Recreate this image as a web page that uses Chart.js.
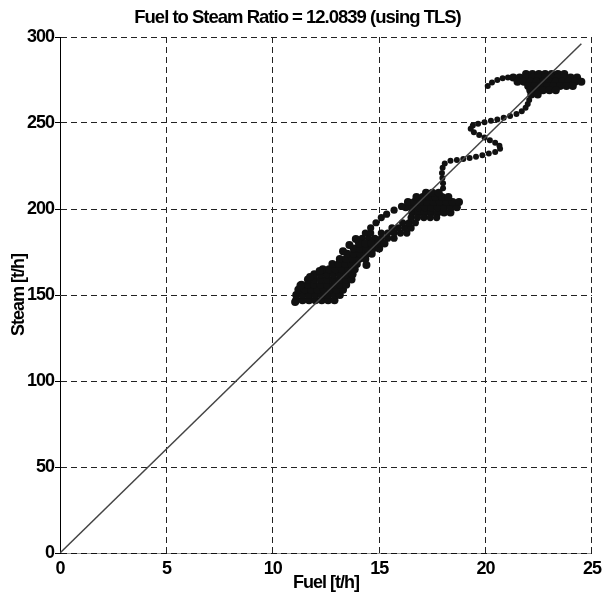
<!DOCTYPE html>
<html>
<head>
<meta charset="utf-8">
<script src="https://cdn.jsdelivr.net/npm/chart.js@4"></script>
<style>
  html, body { margin: 0; padding: 0; background: #fff; }
  #wrap { width: 606px; height: 604px; }
</style>
</head>
<body>
<div id="wrap"><canvas id="chart"></canvas></div>
<script>
// Fuel vs steam scatter with TLS fit line

const ratio = 12.0839;
const xTicks = [0, 5, 10, 15, 20, 25];
const yTicks = [0, 50, 100, 150, 200, 250, 300];

// [fuel, steam] samples
const lowCluster = [
    [11.05, 146], [11.1, 147], [11.4, 147], [11.7, 147], [12.0, 147], [12.3, 147], [12.6, 147], [12.9, 147],
    [11.1, 150], [11.4, 150], [11.7, 150], [12.0, 150], [12.3, 150], [12.6, 150], [12.9, 150], [13.15, 150],
    [11.2, 153], [11.5, 153], [11.8, 153], [12.1, 153], [12.4, 153], [12.7, 153], [13.0, 153], [13.3, 153],
    [11.35, 156], [11.65, 156], [11.95, 156], [12.25, 156], [12.55, 156], [12.85, 156], [13.15, 156], [13.45, 156],
    [11.65, 159], [11.95, 159], [12.25, 159], [12.55, 159], [12.85, 159], [13.15, 159], [13.45, 159], [13.7, 159],
    [11.95, 162], [12.25, 162], [12.55, 162], [12.85, 162], [13.15, 162], [13.45, 162], [13.75, 162],
    [12.35, 165], [12.65, 165], [12.95, 165], [13.25, 165], [13.55, 165], [13.85, 165],
    [12.8, 168], [13.1, 168], [13.4, 168], [13.7, 168], [13.95, 168],
    [13.15, 171], [13.45, 171], [13.75, 171], [14.05, 171], [14.35, 171],
    [13.5, 174], [13.8, 174], [14.1, 174], [14.4, 174], [14.65, 174],
    [13.8, 177], [14.1, 177], [14.4, 177], [14.7, 177], [15.0, 177],
    [14.05, 180], [14.35, 180], [14.65, 180], [14.95, 180], [15.25, 180],
    [11.3, 155.5], [11.75, 160.5], [12.2, 164], [14.4, 167.4],
    [13.3, 175.5], [13.6, 179], [13.9, 182.5]
];

const midBand = [
    [14.2, 183], [14.5, 183], [14.8, 183], [15.1, 183], [15.4, 183], [15.7, 183],
    [14.35, 186], [14.6, 186], [15.1, 186], [15.4, 186], [15.7, 186], [16.0, 186], [16.3, 186],
    [14.6, 189], [15.6, 189], [15.9, 189], [16.2, 189], [16.5, 189],
    [14.85, 192], [16.1, 192], [16.4, 192], [16.7, 192],
    [15.1, 195], [16.5, 195], [16.8, 195], [17.1, 195], [17.4, 195], [17.7, 195],
    [15.35, 197], [15.7, 199.3], [16.05, 201.5]
];

const midBlob = [
    [16.55, 198], [16.85, 198], [17.15, 198], [17.45, 198], [17.75, 198], [18.05, 198], [18.35, 198],
    [16.25, 201], [16.55, 201], [16.85, 201], [17.15, 201], [17.45, 201], [17.75, 201], [18.05, 201], [18.35, 201], [18.65, 201],
    [16.35, 204], [16.65, 204], [16.95, 204], [17.25, 204], [17.55, 204], [17.85, 204], [18.15, 204], [18.45, 204], [18.75, 204],
    [16.75, 207], [17.05, 207], [17.35, 207], [17.65, 207], [17.95, 207], [18.25, 207],
    [17.2, 209.5], [17.5, 209.5], [17.8, 209.5]
];

const riseLoop = [
    [18.0, 212], [18.0, 215], [17.97, 218], [17.95, 221], [17.98, 224], [18.08, 226.5], [18.35, 228],
    [18.65, 228.5], [18.95, 229], [19.25, 229.6], [19.55, 230.4], [19.85, 231.3], [20.15, 232.2],
    [20.45, 233.2], [20.68, 235], [20.65, 236.8], [20.45, 238.5], [20.2, 240], [19.95, 241.6],
    [19.7, 243], [19.45, 244.6], [19.3, 246.6], [19.4, 248.6], [19.65, 249.6], [19.95, 250.5],
    [20.25, 251.3], [20.55, 252.1], [20.85, 253], [21.15, 254], [21.45, 255.2], [21.7, 256.8],
    [21.88, 258.8], [21.98, 261], [22.05, 263.3],
    [20.1, 271.5], [20.3, 273.5], [20.55, 275], [20.8, 276], [21.05, 276.5]
];

const topCluster = [
    [21.9, 278.5], [22.2, 278.5], [22.5, 278.5], [22.8, 278.5], [23.1, 278.5], [23.4, 278.5], [23.7, 278.5],
    [21.3, 276.5], [21.6, 276.5], [21.9, 276.5], [22.2, 276.5], [22.5, 276.5], [22.8, 276.5], [23.1, 276.5],
    [23.4, 276.5], [23.7, 276.5], [24.0, 276.5], [24.3, 276.5],
    [21.5, 274], [21.8, 274], [22.1, 274], [22.4, 274], [22.7, 274], [23.0, 274], [23.3, 274], [23.6, 274],
    [23.9, 274], [24.2, 274], [24.5, 274],
    [22.0, 271.5], [22.3, 271.5], [22.6, 271.5], [22.9, 271.5], [23.2, 271.5], [23.5, 271.5], [23.8, 271.5], [24.1, 271.5],
    [22.1, 269], [22.4, 269], [22.7, 269], [23.0, 269], [23.3, 269],
    [22.15, 266.5], [22.45, 266.5]
];

const fitFuel = [0, 24.5];

const fontFamily = "'Liberation Sans', Arial, sans-serif";

// tight text like the original figure
const tightText = {
    id: 'tightText',
    beforeLayout: chart => { chart.ctx.letterSpacing = '-1px'; },
    beforeDraw: chart => { chart.ctx.letterSpacing = '-1px'; }
};

const toPoints = arr => arr.map(p => ({ x: p[0], y: p[1] }));
const dots = (arr, r) => ({
    type: 'scatter',
    data: toPoints(arr),
    backgroundColor: '#111',
    borderWidth: 0,
    pointRadius: r,
    order: 1
});

new Chart(document.getElementById('chart'), {
    data: {
        datasets: [{
            type: 'line',
            data: fitFuel.map(f => ({ x: f, y: f * ratio })),
            borderColor: '#444',
            borderWidth: 1.5,
            pointRadius: 0,
            order: 0
        },
        dots(lowCluster, 4),
        dots(midBand, 3.6),
        dots(midBlob, 4),
        dots(riseLoop, 3),
        dots(topCluster, 4)]
    },
    plugins: [tightText],
    options: {
        responsive: true,
        maintainAspectRatio: false,
        animation: false,
        layout: {
            padding: { top: 0, right: 11, left: 0, bottom: 0 }
        },
        plugins: {
            legend: { display: false },
            tooltip: { enabled: false },
            title: {
                display: true,
                text: 'Fuel to Steam Ratio = ' + ratio + ' (using TLS)',
                color: '#000',
                font: { family: fontFamily, size: 18.5, weight: 'bold' },
                padding: { top: 7, bottom: 7.8 }
            }
        },
        scales: {
            x: {
                type: 'linear',
                min: xTicks[0],
                max: xTicks[xTicks.length - 1],
                afterBuildTicks: s => { s.ticks = xTicks.map(v => ({ value: v })); },
                afterFit: s => { s.height = 51; },
                ticks: {
                    color: '#000',
                    padding: 5,
                    maxRotation: 0,
                    font: { family: fontFamily, size: 18, weight: 'bold' }
                },
                grid: {
                    color: '#222',
                    lineWidth: 1,
                    drawTicks: false
                },
                border: {
                    color: 'rgba(0,0,0,0.4)',
                    width: 1,
                    dash: [6, 4]
                },
                title: {
                    display: true,
                    text: 'Fuel [t/h]',
                    color: '#000',
                    font: { family: fontFamily, size: 18, weight: 'bold' },
                    padding: { top: 0, bottom: 10 }
                }
            },
            y: {
                type: 'linear',
                min: yTicks[0],
                max: yTicks[yTicks.length - 1],
                afterBuildTicks: s => { s.ticks = yTicks.map(v => ({ value: v })); },
                afterFit: s => { s.width = 60; },
                ticks: {
                    color: '#000',
                    padding: 1,
                    font: { family: fontFamily, size: 18, weight: 'bold' }
                },
                grid: {
                    color: '#222',
                    lineWidth: 1,
                    drawTicks: true,
                    tickLength: 5,
                    tickColor: '#000',
                    tickBorderDash: []
                },
                border: {
                    color: '#000',
                    width: 1,
                    dash: [6, 4]
                },
                title: {
                    display: true,
                    text: 'Steam [t/h]',
                    color: '#000',
                    font: { family: fontFamily, size: 18, weight: 'bold' },
                    padding: { top: 8, bottom: 0 }
                }
            }
        }
    }
});
</script>
</body>
</html>
